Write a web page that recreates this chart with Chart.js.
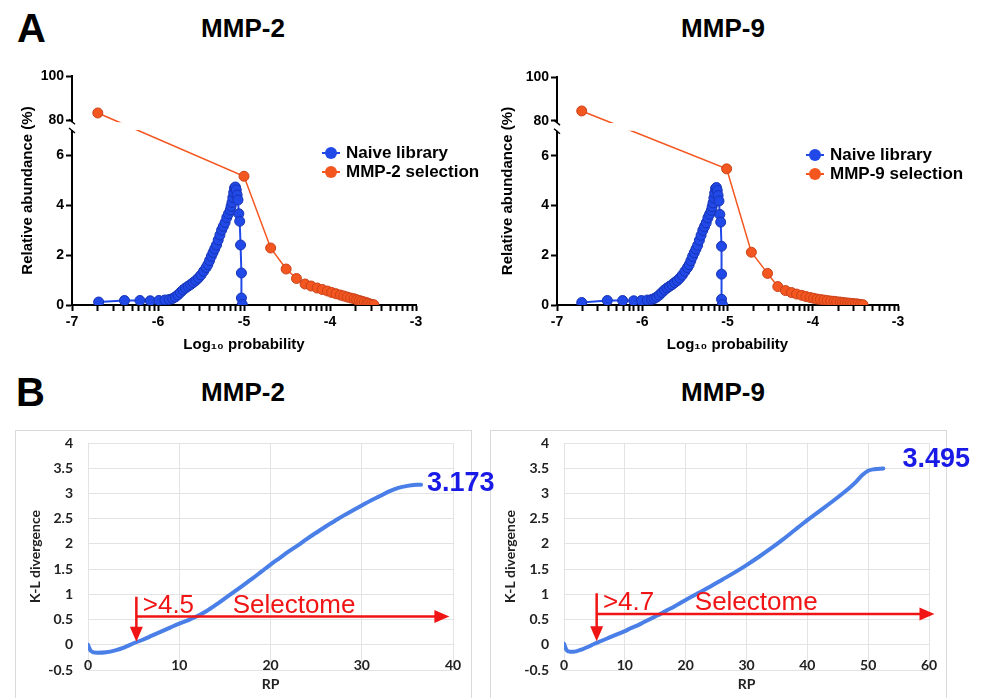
<!DOCTYPE html>
<html>
<head>
<meta charset="utf-8">
<script src="https://cdn.jsdelivr.net/npm/chart.js@4.4.1/dist/chart.umd.min.js"></script>
<style>
  body { margin: 0; background: #fff; width: 984px; height: 698px; overflow: hidden; position: relative;
         font-family: "Liberation Sans", Arial, sans-serif; }
  canvas { position: absolute; }
  .title { position: absolute; font-weight: bold; font-size: 26px; transform: translate(-50%, -50%); white-space: nowrap; }
  .panel { position: absolute; font-weight: bold; font-size: 40px; line-height: 1; }
  .box { position: absolute; border: 1px solid #d9d9d9; width: 455px; height: 300px; top: 430px; }
  .legend { position: absolute; font-weight: bold; font-size: 17px; line-height: 19px; }
  .legend div { display: flex; align-items: center; white-space: nowrap; }
  .mk { position: relative; width: 18px; height: 19px; margin-right: 6px; }
  .mk::before { content: ""; position: absolute; left: 0; right: 0; top: 8.5px; height: 2px; background: var(--c); }
  .mk::after { content: ""; position: absolute; left: 3px; top: 3.5px; width: 12px; height: 12px; border-radius: 50%; background: var(--c); }
</style>
</head>
<body>
<div class="panel" style="left:17px;top:8px">A</div>
<div class="panel" style="left:16px;top:372px">B</div>
<div class="title" style="left:243px;top:28px">MMP-2</div>
<div class="title" style="left:723px;top:28px">MMP-9</div>
<div class="title" style="left:243px;top:392px">MMP-2</div>
<div class="title" style="left:723px;top:392px">MMP-9</div>
<div class="box" style="left:15px"></div>
<div class="box" style="left:490px"></div>

<canvas id="a2" width="490" height="360" style="left:0;top:0"></canvas>
<canvas id="a9" width="494" height="360" style="left:490px;top:0"></canvas>
<canvas id="b2" width="500" height="298" style="left:0;top:400px"></canvas>
<canvas id="b9" width="494" height="298" style="left:490px;top:400px"></canvas>

<div class="legend" style="left:322px;top:143px">
  <div><span class="mk" style="--c:#2149e8"></span>Naive library</div>
  <div><span class="mk" style="--c:#f4561f"></span>MMP-2 selection</div>
</div>
<div class="legend" style="left:806px;top:145px">
  <div><span class="mk" style="--c:#2149e8"></span>Naive library</div>
  <div><span class="mk" style="--c:#f4561f"></span>MMP-9 selection</div>
</div>

<script>
// ---- data: panel A (log10 probability vs relative abundance %) ----
const naive2X = [-6.69,-6.39,-6.21,-6.09,-5.99,-5.92,-5.87,-5.83,-5.80,-5.77,-5.74,-5.71,-5.68,-5.65,-5.62,-5.59,-5.56,-5.53,-5.50,-5.47,
                 -5.44,-5.42,-5.40,-5.38,-5.36,-5.34,-5.32,-5.30,-5.28,-5.26,-5.24,-5.22,-5.20,-5.18,-5.16,-5.15,-5.14,-5.13,-5.12,-5.11,
                 -5.10,-5.09,-5.08,-5.07,-5.06,-5.05,-5.04,-5.03,-5.03,-5.02];
const naive2Y = [0.12,0.18,0.18,0.17,0.18,0.20,0.22,0.26,0.32,0.40,0.50,0.60,0.68,0.75,0.82,0.90,0.98,1.08,1.20,1.35,
                 1.50,1.62,1.78,1.95,2.10,2.25,2.40,2.60,2.80,3.00,3.15,3.30,3.50,3.65,3.80,3.95,4.10,4.30,4.50,4.68,
                 4.72,4.60,4.40,4.20,3.65,3.35,2.40,1.28,0.28,0.02];
const sel2X = [-6.70,-5.00,-4.69,-4.51,-4.39,-4.29,-4.22,-4.15,-4.09,-4.03,-3.98,-3.93,-3.88,-3.84,-3.80,-3.76,-3.72,-3.69,-3.66,-3.63,
               -3.60,-3.57,-3.55,-3.52,-3.49];
const sel2Y = [83.2,5.15,2.28,1.44,1.06,0.84,0.76,0.68,0.62,0.56,0.50,0.45,0.40,0.36,0.32,0.28,0.25,0.21,0.18,0.15,
               0.12,0.09,0.06,0.03,0.01];

const naive9X = [-6.71,-6.41,-6.23,-6.10,-6.01,-5.94,-5.89,-5.86,-5.83,-5.80,-5.77,-5.74,-5.71,-5.68,-5.65,-5.62,-5.59,-5.56,-5.53,-5.50,
                 -5.47,-5.45,-5.43,-5.41,-5.39,-5.37,-5.35,-5.33,-5.31,-5.29,-5.27,-5.25,-5.23,-5.21,-5.19,-5.18,-5.17,-5.16,-5.15,-5.14,
                 -5.13,-5.12,-5.11,-5.10,-5.09,-5.08,-5.07,-5.07,-5.07,-5.06];
const naive9Y = [0.10,0.18,0.18,0.17,0.18,0.20,0.22,0.26,0.32,0.40,0.50,0.60,0.68,0.75,0.82,0.90,0.98,1.08,1.20,1.35,
                 1.50,1.62,1.78,1.95,2.10,2.25,2.40,2.60,2.80,3.00,3.15,3.30,3.50,3.65,3.80,3.95,4.10,4.30,4.50,4.68,
                 4.72,4.60,4.40,4.18,3.64,3.33,2.36,1.24,0.23,0.02];
const sel9X = [-6.71,-5.01,-4.72,-4.53,-4.41,-4.32,-4.25,-4.19,-4.13,-4.08,-4.03,-3.99,-3.95,-3.91,-3.87,-3.83,-3.79,-3.75,-3.72,-3.68,
               -3.65,-3.62,-3.59,-3.56,-3.53,-3.50,-3.47,-3.44,-3.41];
const sel9Y = [84.5,5.47,2.12,1.27,0.74,0.58,0.50,0.44,0.39,0.34,0.30,0.27,0.24,0.22,0.20,0.18,0.16,0.15,0.13,0.12,
               0.10,0.09,0.08,0.07,0.06,0.05,0.04,0.02,0.01];

const abundanceTicks = [0, 2, 4, 6, 80, 100];

// ---- data: panel B (RP vs K-L divergence) ----
const rp2 = [0,0.3,1,2,3,4,5,6,7,8,9,10,11,12,13,14,15,16,17,18,19,20,21,22,23,24,25,26,27,28,29,30,31,32,33,34,35,36,36.5];
const kl2 = [0.0,-0.12,-0.16,-0.15,-0.11,-0.05,0.03,0.10,0.18,0.26,0.34,0.42,0.49,0.57,0.67,0.79,0.92,1.05,1.18,1.31,
             1.45,1.59,1.72,1.85,1.97,2.10,2.22,2.34,2.45,2.56,2.66,2.76,2.86,2.95,3.04,3.11,3.15,3.17,3.173];
const rp9 = [0,0.4,1,2,3,4,5,6,7,8,9,10,11,12,13,14,15,16,17,18,19,20,22,24,26,28,30,32,34,36,38,40,42,44,46,47,48,49,50,51,52.5];
const kl9 = [0.02,-0.10,-0.14,-0.13,-0.09,-0.04,0.02,0.07,0.12,0.17,0.22,0.27,0.33,0.38,0.44,0.50,0.56,0.62,0.69,0.75,
             0.82,0.89,1.02,1.15,1.29,1.43,1.58,1.74,1.91,2.09,2.28,2.47,2.65,2.83,3.02,3.12,3.23,3.36,3.45,3.48,3.495];

const BLUE = '#2149e8', BLUE_EDGE = '#1633b5';
const ORANGE = '#f4561f', ORANGE_EDGE = '#c9421a';
const RED = '#f01414', CURVE = '#4a7fe8', LABEL_BLUE = '#1a1ae6';
const FONT = '"Liberation Sans", Arial, sans-serif';

Chart.defaults.font.family = FONT;
Chart.defaults.color = '#000';

// linear scale with a gap between the low range and the high range
class BrokenScale extends Chart.LinearScale {
  static id = 'broken';
  static defaults = {};
  toFrac(v) {
    const o = this.options;
    if (v <= o.lowMax) return (v - o.min) / (o.lowMax - o.min) * o.lowFrac;
    if (v >= o.highMin) return o.highFrac + (v - o.highMin) / (o.max - o.highMin) * (1 - o.highFrac);
    return o.lowFrac + (v - o.lowMax) / (o.highMin - o.lowMax) * (o.highFrac - o.lowFrac);
  }
  getPixelForValue(v) {
    return this.getPixelForDecimal(this.toFrac(v));
  }
}
Chart.register(BrokenScale);

const axisBreak = {
  id: 'axisBreak',
  afterDatasetsDraw(chart) {
    const y = chart.scales.y, a = chart.chartArea, ctx = chart.ctx;
    const top = y.getPixelForValue(y.options.highMin - 0.5);
    const bot = y.getPixelForValue(y.options.lowMax);
    ctx.save();
    ctx.fillStyle = '#fff';
    ctx.fillRect(a.left - 3, top, a.right - a.left + 3, bot - top);
    ctx.strokeStyle = '#000';
    ctx.lineWidth = 1.5;
    ctx.beginPath();
    ctx.moveTo(a.left - 3, top - 3); ctx.lineTo(a.left + 3, top + 2);
    ctx.moveTo(a.left - 3, bot - 2); ctx.lineTo(a.left + 3, bot + 3);
    ctx.stroke();
    ctx.restore();
  }
};

function abundanceChart(id, nx, ny, sx, sy, geo) {
  const font = { size: 14, weight: 'bold' };
  return new Chart(document.getElementById(id), {
    type: 'line',
    data: {
      datasets: [
        {
          label: 'Naive library',
          data: nx.map((x, i) => ({ x, y: ny[i] })),
          borderColor: BLUE, backgroundColor: BLUE, pointBorderColor: BLUE_EDGE,
          borderWidth: 2, pointRadius: 5, pointBorderWidth: 1
        },
        {
          label: 'selection',
          data: sx.map((x, i) => ({ x, y: sy[i] })),
          borderColor: ORANGE, backgroundColor: ORANGE, pointBorderColor: ORANGE_EDGE,
          borderWidth: 1.5, pointRadius: 5, pointBorderWidth: 1
        }
      ]
    },
    options: {
      responsive: false, animation: false, events: [],
      layout: { padding: { left: 0, right: geo.right, top: geo.top, bottom: 0 } },
      plugins: { legend: { display: false }, tooltip: { enabled: false } },
      scales: {
        x: {
          type: 'linear', min: -7, max: -3,
          afterBuildTicks: s => {
            const t = [];
            for (let d = -7; d <= -3; d++) {
              t.push({ value: d });
              if (d < -3) for (let k = 2; k <= 9; k++) t.push({ value: d + Math.log10(k) });
            }
            s.ticks = t;
          },
          afterFit: s => { s.height = 55; },
          grid: { drawOnChartArea: false, tickLength: 6, tickWidth: 2, tickColor: '#000' },
          border: { color: '#000', width: 2 },
          ticks: { font, color: '#000', padding: 3, autoSkip: false, maxRotation: 0,
                   callback: v => Number.isInteger(v) ? String(v) : '' },
          title: { display: true, text: 'Log₁₀ probability', font: { size: 15, weight: 'bold' }, color: '#000',
                   padding: { top: 0, bottom: 6 } }
        },
        y: {
          type: 'broken', min: 0, max: 100,
          lowMax: 7, highMin: 79, lowFrac: 175 / 229, highFrac: 1 - 46.2 / 229,
          afterBuildTicks: s => { s.ticks = abundanceTicks.map(v => ({ value: v })); },
          afterFit: s => { s.width = geo.yWidth; },
          grid: { drawOnChartArea: false, tickLength: 6, tickWidth: 2, tickColor: '#000' },
          border: { color: '#000', width: 2 },
          ticks: { font, color: '#000', padding: 2 },
          title: { display: true, text: 'Relative abundance (%)', font: { size: 15, weight: 'bold' }, color: '#000',
                   padding: { top: geo.titlePad, bottom: 0 } }
        }
      }
    },
    plugins: [axisBreak]
  });
}

abundanceChart('a2', naive2X, naive2Y, sel2X, sel2Y, { right: 74, top: 76, yWidth: 72, titlePad: 19 });
abundanceChart('a9', naive9X, naive9Y, sel9X, sel9Y, { right: 86, top: 77, yWidth: 67, titlePad: 9 });

const selectome = {
  id: 'selectome',
  afterDatasetsDraw(chart, args, o) {
    const { x, y } = chart.scales, ctx = chart.ctx;
    const x0 = x.getPixelForValue(o.rp);
    const yTop = y.getPixelForValue(o.top), yTip = y.getPixelForValue(o.tip);
    const yH = y.getPixelForValue(o.level), xEnd = x.getPixelForValue(o.end);
    ctx.save();
    ctx.strokeStyle = RED; ctx.fillStyle = RED; ctx.lineWidth = 2.5;
    ctx.beginPath();
    ctx.moveTo(x0, yTop); ctx.lineTo(x0, yTip - 12);
    ctx.moveTo(x0, yH); ctx.lineTo(xEnd - 12, yH);
    ctx.stroke();
    ctx.beginPath();
    ctx.moveTo(x0 - 6.5, yTip - 15); ctx.lineTo(x0 + 6.5, yTip - 15); ctx.lineTo(x0, yTip); ctx.closePath(); ctx.fill();
    ctx.beginPath();
    ctx.moveTo(xEnd - 15, yH - 6.5); ctx.lineTo(xEnd - 15, yH + 6.5); ctx.lineTo(xEnd, yH); ctx.closePath(); ctx.fill();
    ctx.font = '26px ' + FONT;
    ctx.textBaseline = 'alphabetic';
    ctx.fillText(o.thr, x.getPixelForValue(o.thrX), yH - 4);
    ctx.fillText('Selectome', x.getPixelForValue(o.selX), yH - 4);
    const d = chart.data.datasets[0].data, last = d[d.length - 1];
    ctx.fillStyle = LABEL_BLUE;
    ctx.font = 'bold 27px ' + FONT;
    ctx.textBaseline = 'middle';
    ctx.fillText(last.y.toFixed(3), x.getPixelForValue(last.x) + o.dx, y.getPixelForValue(last.y) + o.dy);
    ctx.restore();
  }
};

function klChart(id, rp, kl, xMax, ann, geo) {
  const tickFont = { family: 'Lato, ' + FONT, size: 14, weight: 'bold' };
  return new Chart(document.getElementById(id), {
    type: 'line',
    data: {
      datasets: [{
        data: rp.map((x, i) => ({ x, y: kl[i] })),
        borderColor: CURVE, borderWidth: 4, pointRadius: 0,
        cubicInterpolationMode: 'monotone', borderCapStyle: 'round'
      }]
    },
    options: {
      responsive: false, animation: false, events: [],
      layout: { padding: { left: 0, right: geo.right, top: 43, bottom: 0 } },
      plugins: { legend: { display: false }, tooltip: { enabled: false }, selectome: ann },
      scales: {
        x: {
          type: 'linear', min: 0, max: xMax,
          afterFit: s => { s.height = 28; },
          grid: { color: '#e3e3e3', drawTicks: false },
          border: { display: false },
          ticks: { stepSize: 10, font: tickFont, color: '#222', mirror: true, padding: -4, maxRotation: 0,
                   callback: v => String(v) },
          title: { display: true, text: 'RP', font: tickFont, color: '#222', padding: { top: 0, bottom: 5 } }
        },
        y: {
          min: -0.5, max: 4,
          afterFit: s => { s.width = geo.yWidth; },
          grid: { color: '#e3e3e3', drawTicks: false },
          border: { display: false },
          ticks: { stepSize: 0.5, font: tickFont, color: '#222', padding: 15,
                   callback: v => String(Math.round(v * 10) / 10) },
          title: { display: true, text: 'K-L divergence', font: tickFont, color: '#222',
                   padding: { top: geo.titlePad, bottom: 0 } }
        }
      }
    },
    plugins: [selectome]
  });
}

klChart('b2', rp2, kl2, 40,
  { rp: 5.3, top: 0.95, tip: 0.06, level: 0.56, end: 39.6, thr: '>4.5', thrX: 6.0, selX: 15.85, dx: 6, dy: -1 },
  { right: 47, yWidth: 88, titlePad: 27 });
klChart('b9', rp9, kl9, 60,
  { rp: 5.37, top: 1.02, tip: 0.07, level: 0.61, end: 60.9, thr: '>4.7', thrX: 6.4, selX: 21.5, dx: 19, dy: -9 },
  { right: 55, yWidth: 74, titlePad: 12 });
</script>
</body>
</html>
